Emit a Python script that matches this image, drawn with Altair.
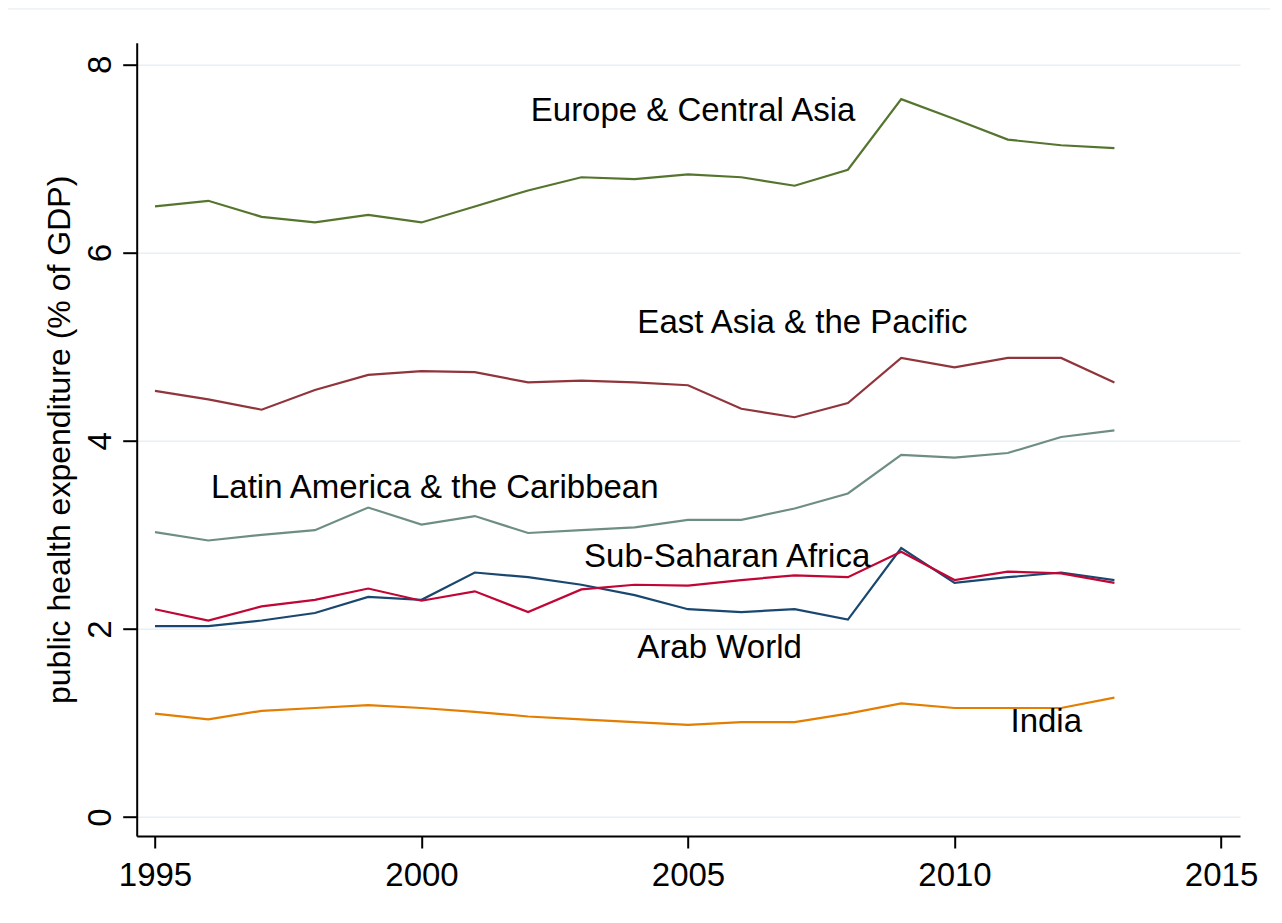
import altair as alt
import pandas as pd

years = list(range(1995, 2014))
regions = ["Arab World", "East Asia & the Pacific", "Europe & Central Asia",
           "India", "Latin America & the Caribbean", "Sub-Saharan Africa"]
colors = ["#1a476f", "#90353b", "#55752f", "#e37e00", "#6e8e84", "#c10534"]

arab = [2.03, 2.03, 2.09, 2.17, 2.34, 2.31, 2.60, 2.55, 2.47, 2.36, 2.21, 2.18, 2.21, 2.10, 2.86, 2.49, 2.55, 2.60, 2.52]
east_asia = [4.53, 4.44, 4.33, 4.54, 4.70, 4.74, 4.73, 4.62, 4.64, 4.62, 4.59, 4.34, 4.25, 4.40, 4.88, 4.78, 4.88, 4.88, 4.62]
europe = [6.49, 6.55, 6.38, 6.32, 6.40, 6.32, 6.49, 6.66, 6.80, 6.78, 6.83, 6.80, 6.71, 6.88, 7.63, 7.42, 7.20, 7.14, 7.11]
india = [1.10, 1.04, 1.13, 1.16, 1.19, 1.16, 1.12, 1.07, 1.04, 1.01, 0.98, 1.01, 1.01, 1.10, 1.21, 1.16, 1.16, 1.16, 1.27]
latin = [3.03, 2.94, 3.00, 3.05, 3.29, 3.11, 3.20, 3.02, 3.05, 3.08, 3.16, 3.16, 3.28, 3.44, 3.85, 3.82, 3.87, 4.04, 4.11]
ssa = [2.21, 2.09, 2.24, 2.31, 2.43, 2.30, 2.40, 2.18, 2.42, 2.47, 2.46, 2.52, 2.57, 2.55, 2.82, 2.52, 2.61, 2.59, 2.49]

series = [arab, east_asia, europe, india, latin, ssa]

ann_labels = ["Europe & Central Asia", "East Asia & the Pacific", "Latin America & the Caribbean",
              "Sub-Saharan Africa", "Arab World", "India"]
ann_x = [2002.05, 2004.05, 1996.05, 2003.05, 2004.05, 2011.05]
ann_y = [7.5, 5.25, 3.5, 2.76, 1.8, 1.01]

y_ticks = [0, 2, 4, 6, 8]
x_ticks = [1995, 2000, 2005, 2010, 2015]

rows = []
for r, vals in zip(regions, series):
    for yr, v in zip(years, vals):
        rows.append({"region": r, "year": yr, "value": v})
df = pd.DataFrame(rows)
ann = pd.DataFrame({"label": ann_labels, "year": ann_x, "value": ann_y})

FONT = "Liberation Sans"
W, H = 1103.3, 793.3

xscale = alt.Scale(domain=[1994.657, 2015.356], nice=False, zero=False)
yscale = alt.Scale(domain=[-0.2, 8.23], nice=False, zero=False)

lines = alt.Chart(df).mark_line(strokeWidth=2.2).encode(
    x=alt.X("year:Q", scale=xscale,
            axis=alt.Axis(values=x_ticks, format="d", title=None, grid=False,
                          tickSize=12, labelPadding=11, labelFontSize=33)),
    y=alt.Y("value:Q", scale=yscale,
            axis=alt.Axis(values=y_ticks, format="d", title="public health expenditure (% of GDP)",
                          grid=True, tickSize=14, labelPadding=12, labelFontSize=33,
                          labelAngle=270, labelAlign="center", labelBaseline="alphabetic",
                          titleAngle=270, titleAlign="center", titleBaseline="bottom",
                          titleX=-60, titleY=H / 2, titleFontSize=32,
                          titleFontWeight="normal")),
    color=alt.Color("region:N", scale=alt.Scale(domain=regions, range=colors), legend=None),
    detail="region:N",
)

texts = alt.Chart(ann).mark_text(align="left", baseline="middle", fontSize=33,
                                 font=FONT, color="#000000").encode(
    x=alt.X("year:Q", scale=xscale),
    y=alt.Y("value:Q", scale=yscale),
    text="label:N",
)

border = alt.Chart(pd.DataFrame({"a": [0]})).mark_rect(
    fill=None, stroke="#eef3f6", strokeWidth=2, clip=False
).encode(
    x=alt.value(-200), x2=alt.value(1136), y=alt.value(-34), y2=alt.value(1000)
)

chart = alt.layer(border, lines, texts).properties(
    width=W, height=H,
    autosize=alt.AutoSizeParams(type="none"),
    padding={"left": 128.7, "top": 34.7, "right": 30, "bottom": 60},
    background="white",
).configure_view(stroke=None).configure_axis(
    labelFont=FONT, titleFont=FONT, labelColor="#000000", titleColor="#000000",
    domainColor="#000000", tickColor="#000000", domainWidth=2, tickWidth=2,
    gridColor="#e8f0f3", gridWidth=1.5, labelOverlap=False, labelBound=False,
)

chart.save("out.html", embed_options={"renderer": "svg", "actions": False})
